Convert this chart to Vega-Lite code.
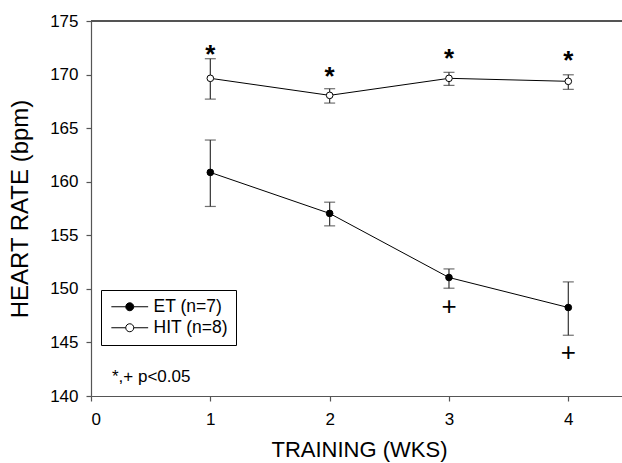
{
  "$schema": "https://vega.github.io/schema/vega-lite/v6.json",
  "width": 531,
  "height": 375,
  "autosize": {"type": "none"},
  "padding": {"left": 91, "top": 21, "right": 0, "bottom": 67},
  "background": "white",
  "config": {
    "view": {"stroke": null},
    "font": "Liberation Sans",
    "axis": {
      "grid": false,
      "domainColor": "#555555",
      "tickColor": "#555555",
      "domainWidth": 1.2,
      "tickWidth": 1.2,
      "tickSize": 5,
      "labelColor": "black",
      "labelFontSize": 17,
      "labelFont": "Liberation Sans",
      "titleColor": "black",
      "titleFont": "Liberation Sans",
      "titleFontWeight": "normal"
    }
  },
  "datasets": {
    "hr": [
      {"week": 1, "group": "ET (n=7)", "hr": 160.87, "lo": 157.69, "hi": 163.89},
      {"week": 2, "group": "ET (n=7)", "hr": 157.04, "lo": 155.88, "hi": 158.09},
      {"week": 3, "group": "ET (n=7)", "hr": 151.06, "lo": 150.06, "hi": 151.86},
      {"week": 4, "group": "ET (n=7)", "hr": 148.26, "lo": 145.67, "hi": 150.65},
      {"week": 1, "group": "HIT (n=8)", "hr": 169.65, "lo": 167.71, "hi": 171.48},
      {"week": 2, "group": "HIT (n=8)", "hr": 168.06, "lo": 167.34, "hi": 168.68},
      {"week": 3, "group": "HIT (n=8)", "hr": 169.65, "lo": 168.99, "hi": 170.21},
      {"week": 4, "group": "HIT (n=8)", "hr": 169.37, "lo": 168.62, "hi": 169.98}
    ],
    "sig": [
      {"week": 1, "sym": "*", "y": 172.51},
      {"week": 2, "sym": "*", "y": 170.42},
      {"week": 3, "sym": "*", "y": 172.13},
      {"week": 4, "sym": "*", "y": 171.95},
      {"week": 3, "sym": "+", "y": 148.38},
      {"week": 4, "sym": "+", "y": 144.11}
    ],
    "note": [{"x": 0.176, "y": 141.31, "text": "*,+ p<0.05"}]
  },
  "layer": [
    {
      "data": {"name": "hr"},
      "mark": {"type": "line", "color": "black", "strokeWidth": 1},
      "encoding": {
        "x": {
          "field": "week",
          "type": "quantitative",
          "scale": {"domain": [0, 4.45], "nice": false, "zero": false},
          "axis": {
            "title": "TRAINING (WKS)",
            "values": [0, 1, 2, 3, 4],
            "format": "d",
            "labelPadding": 10,
            "titleFontSize": 22,
            "titleX": 268,
            "titleY": 60,
            "titleBaseline": "alphabetic"
          }
        },
        "y": {
          "field": "hr",
          "type": "quantitative",
          "scale": {"domain": [140, 175], "nice": false, "zero": false},
          "axis": {
            "title": "HEART RATE (bpm)",
            "values": [140, 145, 150, 155, 160, 165, 170, 175],
            "labelPadding": 8,
            "titleFontSize": 24,
            "titleX": -64,
            "titleY": 187.5,
            "titleBaseline": "alphabetic"
          }
        },
        "detail": {"field": "group"}
      }
    },
    {
      "data": {"name": "hr"},
      "mark": {"type": "rule", "color": "#333333", "strokeWidth": 1.2},
      "encoding": {
        "x": {"field": "week", "type": "quantitative"},
        "y": {"field": "lo", "type": "quantitative"},
        "y2": {"field": "hi"}
      }
    },
    {
      "data": {"name": "hr"},
      "mark": {"type": "tick", "orient": "horizontal", "color": "#333333", "size": 11, "thickness": 1.2},
      "encoding": {
        "x": {"field": "week", "type": "quantitative"},
        "y": {"field": "lo", "type": "quantitative"}
      }
    },
    {
      "data": {"name": "hr"},
      "mark": {"type": "tick", "orient": "horizontal", "color": "#333333", "size": 11, "thickness": 1.2},
      "encoding": {
        "x": {"field": "week", "type": "quantitative"},
        "y": {"field": "hi", "type": "quantitative"}
      }
    },
    {
      "data": {"name": "hr"},
      "mark": {"type": "point", "shape": "circle", "filled": true, "size": 44, "stroke": "black", "strokeWidth": 1, "opacity": 1},
      "encoding": {
        "x": {"field": "week", "type": "quantitative"},
        "y": {"field": "hr", "type": "quantitative"},
        "fill": {
          "field": "group",
          "type": "nominal",
          "scale": {"domain": ["ET (n=7)", "HIT (n=8)"], "range": ["black", "white"]},
          "legend": {
            "orient": "none",
            "legendX": 10,
            "legendY": 269,
            "title": null,
            "symbolType": "M-4.6,0L-1,0M1,0L4.6,0M1,0A1,1,0,1,1,-1,0A1,1,0,1,1,1,0Z",
            "symbolSize": 64,
            "symbolStrokeColor": "black",
            "symbolStrokeWidth": 1,
            "symbolOpacity": 1,
            "symbolOffset": 12,
            "labelOffset": 15,
            "labelFontSize": 17.5,
            "labelFont": "Liberation Sans",
            "labelColor": "black",
            "strokeColor": "black",
            "fillColor": "white",
            "padding": 8,
            "rowPadding": 2
          }
        }
      }
    },
    {
      "data": {"name": "hr"},
      "mark": {"type": "rule", "color": "#555555", "strokeWidth": 1.2},
      "encoding": {"y": {"datum": 175, "type": "quantitative"}}
    },
    {
      "data": {"name": "sig"},
      "transform": [{"filter": "datum.sym === '*'"}],
      "mark": {"type": "text", "fontSize": 26, "fontWeight": "bold", "font": "Liberation Sans", "color": "black", "baseline": "alphabetic", "align": "center", "dy": 15},
      "encoding": {
        "x": {"field": "week", "type": "quantitative"},
        "y": {"field": "y", "type": "quantitative"},
        "text": {"field": "sym"}
      }
    },
    {
      "data": {"name": "sig"},
      "transform": [{"filter": "datum.sym === '+'"}],
      "mark": {"type": "text", "fontSize": 26, "font": "Liberation Sans", "color": "black", "baseline": "alphabetic", "align": "center", "dy": 9},
      "encoding": {
        "x": {"field": "week", "type": "quantitative"},
        "y": {"field": "y", "type": "quantitative"},
        "text": {"field": "sym"}
      }
    },
    {
      "data": {"name": "note"},
      "mark": {"type": "text", "fontSize": 17, "font": "Liberation Sans", "color": "black", "baseline": "alphabetic", "align": "left"},
      "encoding": {
        "x": {"field": "x", "type": "quantitative"},
        "y": {"field": "y", "type": "quantitative"},
        "text": {"field": "text"}
      }
    }
  ]
}
